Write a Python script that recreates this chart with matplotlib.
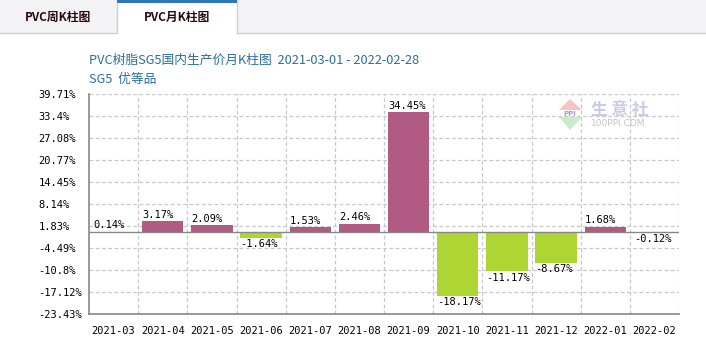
import matplotlib.pyplot as plt
from matplotlib.patches import Rectangle, Polygon

# 月度涨跌幅 (%)
months = ['2021-03', '2021-04', '2021-05', '2021-06', '2021-07', '2021-08',
          '2021-09', '2021-10', '2021-11', '2021-12', '2022-01', '2022-02']
changes = [0.14, 3.17, 2.09, -1.64, 1.53, 2.46, 34.45, -18.17, -11.17, -8.67, 1.68, -0.12]
yticks = [39.71, 33.4, 27.08, 20.77, 14.45, 8.14, 1.83, -4.49, -10.8, -17.12, -23.43]
ylabels = ['39.71%', '33.4%', '27.08%', '20.77%', '14.45%', '8.14%', '1.83%',
           '-4.49%', '-10.8%', '-17.12%', '-23.43%']

up_color = '#b05a84'
down_color = '#add533'
mono = 'DejaVu Sans Mono'
cjk = ['Noto Sans CJK SC', 'DejaVu Sans']

fig = plt.figure(figsize=(7.06, 3.51), dpi=100)

# tab bar on top
W, H = 706, 351
def px(x, y):
    return x / W, 1 - y / H

fig.patches.append(Rectangle(px(0, 33), 1, 33 / H, transform=fig.transFigure,
                             facecolor='#f3f3f5', edgecolor='none', zorder=0))
fig.patches.append(Rectangle(px(117, 33), 120 / W, 33 / H, transform=fig.transFigure,
                             facecolor='white', edgecolor='none', zorder=1))
fig.patches.append(Rectangle(px(117, 3), 120 / W, 3 / H, transform=fig.transFigure,
                             facecolor='#2b77b8', edgecolor='none', zorder=2))
fig.add_artist(plt.Line2D([0, 117 / W], [1 - 33 / H] * 2, transform=fig.transFigure,
                          color='#d0d0d0', lw=1))
fig.add_artist(plt.Line2D([237 / W, 1], [1 - 33 / H] * 2, transform=fig.transFigure,
                          color='#d0d0d0', lw=1))
fig.add_artist(plt.Line2D([117 / W] * 2, [1 - 33 / H, 1], transform=fig.transFigure,
                          color='#d0d0d0', lw=1))
fig.add_artist(plt.Line2D([237 / W] * 2, [1 - 33 / H, 1], transform=fig.transFigure,
                          color='#d0d0d0', lw=1))
fig.text(*px(58, 17), 'PVC周K柱图', family=cjk, fontsize=8.5, fontweight='bold',
         color='#2a0a10', ha='center', va='center')
fig.text(*px(177, 17), 'PVC月K柱图', family=cjk, fontsize=8.5, fontweight='bold',
         color='#2a0a10', ha='center', va='center')

# titles
fig.text(*px(89, 60), 'PVC树脂SG5国内生产价月K柱图  2021-03-01 - 2022-02-28',
         family=cjk, fontsize=9.2, color='#2a6e9c', ha='left', va='center')
fig.text(*px(89, 80), 'SG5  优等品', family=cjk, fontsize=9.2, color='#2a6e9c',
         ha='left', va='center')

ax = fig.add_axes([89 / W, 1 - 314 / H, 590 / W, 220 / H])
x = list(range(len(months)))
colors = [up_color if v >= 0 else down_color for v in changes]
ax.bar(x, changes, width=0.84, color=colors, zorder=3)

ax.set_xlim(-0.5, len(months) - 0.5)
ax.set_ylim(yticks[-1], yticks[0])
ax.set_yticks(yticks)
ax.set_yticklabels(ylabels, family=mono, fontsize=7.5)
for lab in ax.get_yticklabels():
    lab.set_horizontalalignment('left')
ax.tick_params(axis='y', length=0, pad=36.5)
ax.set_xticks(x)
ax.set_xticklabels(months, family=mono, fontsize=7.5)
ax.tick_params(axis='x', length=0, pad=9)

# grid
for yv in yticks:
    ax.axhline(yv, color='#c8c8c8', lw=0.9, ls=(0, (3, 2)), zorder=1)
for i in range(len(months)):
    ax.axvline(i + 0.5, color='#c8c8c8', lw=0.9, ls=(0, (3, 2)), zorder=1)
ax.axhline(0, color='#888888', lw=1, zorder=4)

for s in ['top', 'right']:
    ax.spines[s].set_visible(False)
for s in ['left', 'bottom']:
    ax.spines[s].set_color('#888888')
    ax.spines[s].set_linewidth(1.2)

# value labels
for xi, v in zip(x, changes):
    if v >= 0:
        ax.annotate(f'{v:.2f}%', (xi - 0.42, v), xytext=(0, 1), textcoords='offset points',
                    ha='left', va='bottom', family=mono, fontsize=7.5, zorder=5)
    else:
        ax.annotate(f'{v:.2f}%', (xi - 0.42, v), xytext=(0, -1), textcoords='offset points',
                    ha='left', va='top', family=mono, fontsize=7.5, zorder=5)

# watermark
fig.patches.append(Polygon([px(559, 110), px(582, 110), px(570, 99)], closed=True,
                           transform=fig.transFigure, facecolor='#f5c4c4', edgecolor='none'))
fig.patches.append(Polygon([px(559, 117), px(582, 117), px(570, 130)], closed=True,
                           transform=fig.transFigure, facecolor='#c8ebc8', edgecolor='none'))
fig.text(*px(570, 113.5), 'PPI', fontsize=5, color='#9aa0c8', ha='center', va='center',
         fontweight='bold')
fig.text(*px(591, 110), '生 意 社', family=cjk, fontsize=12, color='#c8cce4',
         ha='left', va='center', fontweight='bold')
fig.text(*px(591, 124), '100PPI.COM', fontsize=6.5, color='#c4c4c4', ha='left', va='center')

fig.savefig('out.png', dpi=100)
